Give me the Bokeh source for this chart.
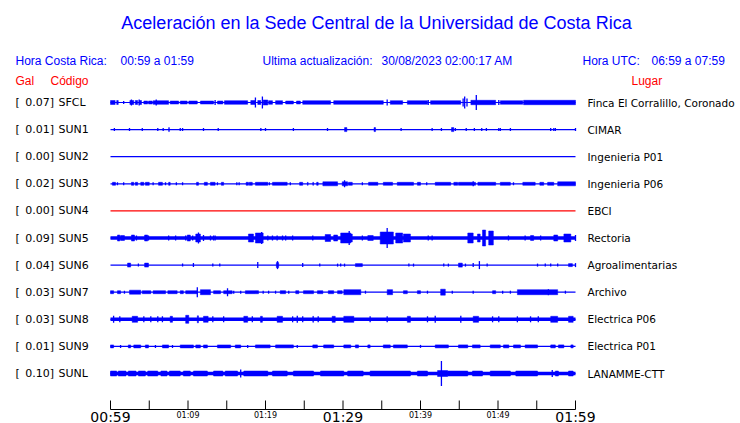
from bokeh.plotting import figure
from bokeh.models import Range1d
from bokeh.embed import file_html
from bokeh.resources import INLINE
from bokeh.core.properties import value

# ---------------- data ----------------
codes = ["SFCL", "SUN1", "SUN2", "SUN3", "SUN4", "SUN5", "SUN6", "SUN7", "SUN8", "SUN9", "SUNL"]
gal = ["0.07", "0.01", "0.00", "0.02", "0.00", "0.09", "0.04", "0.03", "0.03", "0.01", "0.10"]
places = ["Finca El Corralillo, Coronado", "CIMAR", "Ingenieria P01", "Ingenieria P06", "EBCI",
          "Rectoria", "Agroalimentarias", "Archivo", "Electrica P06", "Electrica P01", "LANAMME-CTT"]
# continuous noise band half-amplitude (px) per station
base_amp = [0, 0, 0, 0, 0, 1.7, 0, 0, 1.7, 0, 1.7]

# bursts: (start minute, end minute, half amplitude px); minute 0 = 00:59
bursts_SFCL = [(0.0, 0.6, 2), (0.8, 1.0, 2), (1.7, 1.7, 1.5), (2.5, 3.0, 2), (2.7, 2.7, 3), (3.2, 3.5, 2),
               (3.7, 4.0, 2), (3.7, 3.7, 3), (4.3, 4.8, 1.5), (4.9, 5.4, 1.5), (5.5, 7.5, 1.8), (5.9, 5.9, 3),
               (7.7, 8.8, 1.5), (9.0, 9.9, 1.5), (10.1, 11.2, 1.5), (11.6, 13.3, 1.5), (13.5, 13.5, 2.5),
               (13.8, 14.5, 1.5), (14.7, 17.7, 1.8), (18.1, 18.7, 2), (18.7, 18.7, 5), (19.0, 19.4, 2),
               (19.6, 19.6, 6), (19.7, 20.3, 2.5), (20.4, 20.9, 1.8), (21.3, 22.2, 1.8), (22.6, 23.6, 1.5),
               (24.0, 24.5, 1.5), (24.8, 28.4, 1.8), (28.8, 35.2, 1.8), (35.7, 35.7, 3), (36.1, 37.7, 1.8),
               (38.3, 40.9, 1.8), (41.0, 41.0, 2.5), (41.3, 45.2, 1.8), (45.5, 45.5, 4), (45.7, 45.7, 6),
               (46.0, 46.0, 4), (46.5, 49.7, 2.2), (47.2, 47.2, 7.5), (50.1, 50.1, 2.5), (50.3, 53.2, 1.8),
               (53.3, 60.0, 2.2)]
bursts_SUN1 = [(0.5, 0.5, 1.5), (2.45, 2.45, 1.5), (4.1, 4.1, 1.5), (6.1, 6.1, 1.5), (6.8, 6.8, 1.5),
               (7.5, 7.6, 2), (9.0, 9.0, 1.5), (9.3, 9.3, 1.5), (12.0, 12.0, 1.5), (13.9, 13.9, 1.5),
               (19.4, 19.4, 1.5), (20.0, 20.0, 1.5), (23.6, 23.6, 1.5), (28.0, 28.0, 1.5), (30.2, 30.5, 2),
               (34.0, 34.2, 2), (37.5, 37.5, 1.5), (41.5, 41.5, 1.5), (42.7, 42.7, 1.5), (44.0, 44.3, 2),
               (44.5, 44.5, 1.5), (45.9, 45.9, 1.5), (46.95, 46.95, 1.5), (47.9, 47.9, 1.5), (48.5, 48.5, 1.5),
               (50.1, 50.1, 1.5), (50.3, 50.3, 1.5), (51.6, 51.6, 1.5), (56.8, 56.8, 1.5), (57.2, 57.2, 1.5),
               (57.4, 57.4, 1.5), (60.0, 60.0, 1.5)]
bursts_SUN2 = []
bursts_SUN3 = [(0.25, 0.65, 1.5), (0.9, 0.9, 1.5), (1.7, 1.7, 1.5), (2.7, 3.0, 1.5), (3.2, 3.5, 1.5),
               (3.9, 4.3, 1.5), (4.5, 5.0, 1.5), (5.5, 5.5, 1.5), (6.2, 6.7, 1.5), (7.1, 7.1, 1.5),
               (7.5, 7.7, 1.5), (8.5, 8.5, 1.5), (9.3, 9.3, 1.5), (11.1, 11.35, 1.5), (12.1, 12.5, 1.5),
               (12.9, 13.5, 1.5), (13.8, 13.8, 1.5), (14.3, 14.6, 1.5), (16.3, 16.3, 1.5), (16.6, 16.6, 1.5),
               (17.5, 17.8, 1.5), (17.9, 18.3, 1.5), (18.7, 20.3, 1.5), (20.5, 20.5, 1.5), (20.9, 22.8, 1.5),
               (23.2, 23.2, 1.5), (24.4, 24.8, 1.5), (25.4, 25.5, 1.5), (26.1, 26.2, 1.5), (26.6, 26.8, 1.5),
               (27.4, 29.3, 2), (29.9, 30.6, 2), (30.2, 30.2, 3.5), (30.7, 31.2, 1.5), (32.5, 32.5, 1.5),
               (33.3, 34.5, 1.5), (35.2, 36.4, 1.5), (37.0, 39.1, 1.5), (39.6, 40.0, 1.5), (40.8, 40.8, 1.5),
               (41.9, 43.9, 1.5), (44.3, 44.8, 1.5), (44.9, 47.1, 1.5), (46.8, 46.8, 2.5), (47.4, 49.7, 1.5),
               (50.3, 51.6, 1.5), (52.0, 52.0, 1.5), (53.2, 54.8, 1.5), (55.4, 55.9, 1.5), (56.4, 57.2, 1.5),
               (57.7, 60.0, 2)]
bursts_SUN4 = []
bursts_SUN5 = [(0.9, 1.2, 3), (1.3, 1.8, 2.5), (2.7, 3.1, 3), (3.35, 3.35, 2.5), (4.4, 4.8, 3), (4.9, 4.9, 2.5),
               (7.5, 7.5, 2.5), (8.4, 8.4, 2.5), (9.7, 9.7, 2.5), (9.9, 10.3, 3), (10.6, 10.6, 2.5),
               (11.0, 11.6, 4), (11.35, 11.35, 5.5), (12.0, 12.0, 3), (12.9, 12.9, 2.5), (13.3, 13.3, 2.5),
               (13.5, 13.5, 2.5), (17.8, 18.45, 4), (18.7, 19.7, 5), (19.5, 19.5, 6), (20.3, 20.3, 2.5),
               (20.9, 20.9, 2.5), (21.5, 21.5, 2.5), (22.2, 22.2, 2.5), (22.6, 22.6, 2.5), (23.5, 23.5, 2.5),
               (26.1, 26.1, 2.5), (27.7, 28.4, 3.5), (28.8, 29.3, 3), (29.7, 31.0, 5), (30.8, 30.8, 7),
               (30.7, 31.2, 4), (32.5, 32.5, 2.5), (33.2, 33.9, 2.5), (34.8, 36.5, 6), (35.7, 35.7, 10),
               (36.8, 37.7, 5), (37.8, 38.7, 4), (41.0, 41.0, 2.5), (41.5, 41.5, 2.5), (46.1, 46.8, 5),
               (47.35, 47.7, 4), (48.0, 48.4, 8), (48.8, 49.4, 7), (51.35, 51.35, 2.5), (53.5, 53.5, 2.5),
               (54.2, 54.6, 2.5), (55.5, 55.5, 2.5), (57.2, 57.7, 3), (58.5, 59.4, 4), (60.0, 60.0, 3)]
bursts_SUN6 = [(2.2, 2.6, 2), (3.6, 3.6, 1.5), (4.4, 4.9, 2), (9.3, 9.3, 1.5), (10.7, 10.7, 2), (13.2, 13.2, 1.5),
               (14.1, 14.1, 1.5), (19.0, 19.0, 3), (21.4, 21.7, 2.5), (21.55, 21.55, 4), (24.8, 24.8, 2),
               (27.0, 27.0, 1.5), (29.3, 29.3, 1.5), (29.7, 29.7, 1.5), (30.2, 30.2, 1.5), (31.6, 32.5, 1.5),
               (38.5, 38.5, 1.5), (39.1, 39.1, 1.5), (43.0, 43.0, 1.5), (43.6, 43.6, 1.5), (44.9, 45.4, 2),
               (45.8, 45.8, 1.5), (46.8, 46.8, 2), (47.6, 47.6, 4), (48.6, 48.6, 1.5), (55.1, 55.1, 1.5),
               (56.1, 56.1, 1.5), (56.8, 56.8, 1.5), (57.7, 57.7, 1.5), (59.1, 59.6, 1.5), (60.0, 60.0, 2)]
bursts_SUN7 = [(0.0, 0.4, 1.5), (0.9, 1.3, 1.5), (1.8, 1.8, 1.5), (2.45, 3.9, 2), (4.1, 5.2, 1.5), (5.5, 7.1, 1.5),
               (7.4, 8.6, 1.5), (9.0, 9.4, 1.5), (9.7, 11.2, 1.5), (11.2, 11.2, 5), (11.6, 12.9, 2.5),
               (13.3, 14.2, 1.5), (14.6, 15.7, 1.5), (15.1, 15.1, 4), (15.9, 15.9, 1.5), (16.8, 16.8, 1.5),
               (17.4, 19.1, 1.5), (19.7, 19.7, 1.5), (20.4, 20.4, 1.5), (21.3, 21.3, 1.5), (21.9, 22.6, 1.5),
               (23.0, 23.0, 1.5), (23.9, 24.3, 1.5), (24.9, 26.2, 1.5), (26.7, 27.4, 1.5), (28.1, 28.8, 1.5),
               (29.3, 29.9, 1.5), (30.1, 32.3, 2.5), (32.9, 32.9, 1.5), (35.7, 36.4, 2.5), (37.8, 38.3, 1.5),
               (39.6, 40.0, 1.5), (40.9, 40.9, 1.5), (42.6, 43.2, 3), (44.1, 44.1, 1.5), (46.8, 46.8, 1.5),
               (49.3, 49.7, 1.5), (50.6, 50.6, 1.5), (51.6, 51.6, 1.5), (52.5, 57.7, 2.5), (56.5, 56.5, 3),
               (58.7, 58.7, 1.5)]
bursts_SUN8 = [(0.4, 0.4, 3.5), (1.2, 1.2, 3), (2.8, 3.5, 3), (4.3, 4.3, 3), (5.2, 5.2, 3), (6.1, 6.1, 3),
               (6.7, 6.7, 3), (7.7, 8.0, 3), (9.7, 10.1, 4), (11.2, 11.35, 3.5), (12.0, 12.6, 3), (13.2, 13.2, 3),
               (14.6, 14.6, 3), (17.2, 17.7, 3), (18.3, 18.3, 3), (19.35, 19.6, 3), (21.5, 22.2, 3),
               (23.5, 23.5, 3), (24.1, 24.1, 3.5), (24.8, 24.8, 3), (26.1, 26.2, 3), (26.8, 26.8, 3),
               (28.6, 29.0, 3), (30.1, 31.4, 3), (33.5, 33.5, 3), (35.7, 35.7, 3), (38.3, 38.7, 3),
               (40.9, 40.9, 3), (41.9, 41.9, 3.5), (45.2, 45.2, 3.5), (46.8, 47.5, 3), (49.3, 49.3, 3),
               (50.1, 50.1, 3), (52.5, 52.5, 3), (54.2, 54.2, 3), (55.2, 55.2, 3), (56.8, 57.7, 3),
               (59.1, 59.7, 3)]
bursts_SUN9 = [(0.0, 0.4, 1.5), (1.3, 1.3, 1.5), (2.3, 2.6, 1.5), (3.0, 3.9, 1.5), (4.5, 4.9, 1.5),
               (5.8, 5.8, 1.5), (6.7, 7.5, 1.5), (8.0, 8.0, 1.5), (9.0, 10.7, 1.5), (11.0, 11.6, 1.5),
               (12.0, 12.5, 1.5), (13.8, 15.5, 1.5), (16.1, 16.8, 1.5), (17.7, 17.7, 1.5), (18.7, 20.6, 1.5),
               (21.3, 23.6, 1.5), (24.1, 24.1, 1.5), (26.1, 26.7, 1.5), (27.5, 28.8, 1.5), (30.1, 31.0, 1.5),
               (31.6, 32.0, 1.5), (33.2, 33.5, 1.5), (35.2, 36.1, 1.5), (36.5, 38.3, 1.5), (40.0, 40.0, 1.5),
               (41.9, 43.6, 1.5), (44.9, 46.1, 1.5), (46.7, 47.7, 1.5), (49.0, 50.3, 1.5), (50.7, 51.4, 1.5),
               (52.0, 52.9, 1.5), (53.5, 55.1, 1.5), (56.8, 57.4, 1.5), (57.8, 58.5, 1.5), (59.4, 59.7, 1.5)]
bursts_SUNL = [(0.0, 0.8, 2.5), (1.0, 2.0, 2.5), (2.3, 3.3, 2.5), (3.6, 4.5, 2.5), (4.8, 6.1, 2.5),
               (6.5, 7.3, 2.5), (7.6, 9.0, 2.5), (9.4, 10.3, 2.5), (10.7, 12.5, 2.5), (13.3, 14.5, 2.5),
               (14.8, 16.4, 2.5), (16.8, 16.8, 4), (17.2, 20.3, 2.5), (20.9, 22.8, 2.5), (23.6, 26.2, 2.5),
               (27.1, 30.1, 2.5), (30.6, 32.6, 2.5), (33.5, 38.7, 2.5), (39.6, 40.9, 2.5), (42.2, 43.5, 3),
               (42.7, 42.7, 12.5), (43.5, 46.1, 2.5), (46.7, 48.0, 2.5), (49.0, 51.6, 2.5), (52.3, 55.1, 2.5),
               (57.0, 57.0, 3.5), (57.4, 57.8, 2.5), (59.1, 59.7, 2.5)]

all_bursts = [bursts_SFCL, bursts_SUN1, bursts_SUN2, bursts_SUN3, bursts_SUN4, bursts_SUN5,
              bursts_SUN6, bursts_SUN7, bursts_SUN8, bursts_SUN9, bursts_SUNL]

tick_minutes = list(range(0, 61, 5))
major_ticks = [0, 30, 60]
major_labels = ["00:59", "01:29", "01:59"]
minor_ticks = [10, 20, 40, 50]
minor_labels = ["01:09", "01:19", "01:39", "01:49"]

# ---------------- layout helpers ----------------
W, H = 740, 423
PX_PER_MIN = 7.75
X0_PAGE = 110.0          # x pixel of minute 0
ROW0_Y = 102.0           # y pixel of first row
ROW_STEP = 27.1
AXIS_Y = 409.0
TICK_TOP = 400.0


def mx(px):
    """pixel x -> minutes (for text placement)"""
    return (px - X0_PAGE) / PX_PER_MIN


BLUE = "#0000FF"
RED = "#FF0000"
trace_colors = [BLUE, BLUE, BLUE, BLUE, RED, BLUE, BLUE, BLUE, BLUE, BLUE, BLUE]

p = figure(width=W, height=H, output_backend="svg", toolbar_location=None,
           x_axis_type=None, y_axis_type=None, min_border=0,
           x_range=Range1d(mx(0), mx(W)), y_range=Range1d(H, 0))
p.outline_line_color = None
p.background_fill_color = "white"
p.border_fill_color = "white"
p.grid.visible = False

rows = [ROW0_Y + ROW_STEP * i for i in range(len(codes))]

# base lines
p.segment(x0=[0] * len(rows), x1=[60] * len(rows), y0=rows, y1=rows,
          line_color=trace_colors, line_width=1.2)

# continuous bands
band = [(i, a) for i, a in enumerate(base_amp) if a > 0]
p.quad(left=[0] * len(band), right=[60] * len(band),
       bottom=[rows[i] - a for i, a in band], top=[rows[i] + a for i, a in band],
       fill_color=BLUE, line_color=None)

# bursts
ql, qr, qb, qt, qc = [], [], [], [], []
sx, sy0, sy1, sc = [], [], [], []
for i, bl in enumerate(all_bursts):
    for (s, e, a) in bl:
        if e - s < 0.05:
            sx.append(s); sy0.append(rows[i] - a); sy1.append(rows[i] + a); sc.append(trace_colors[i])
        else:
            ql.append(s); qr.append(e); qb.append(rows[i] - a); qt.append(rows[i] + a); qc.append(trace_colors[i])
p.quad(left=ql, right=qr, bottom=qb, top=qt, fill_color=qc, line_color=qc, line_width=0.5)
p.segment(x0=sx, x1=sx, y0=sy0, y1=sy1, line_color=sc, line_width=1.3)

# time axis
p.segment(x0=[0], x1=[60], y0=[AXIS_Y], y1=[AXIS_Y], line_color="black", line_width=1)
p.segment(x0=tick_minutes, x1=tick_minutes, y0=[AXIS_Y] * len(tick_minutes), y1=[TICK_TOP] * len(tick_minutes),
          line_color="black", line_width=1)
p.text(x=major_ticks, y=[416] * 3, text=major_labels, text_font=value("DejaVu Sans"),
       text_font_size="14px", text_align="center", text_baseline="middle", text_color="black")
p.text(x=minor_ticks, y=[415] * 4, text=minor_labels, text_font=value("DejaVu Sans"),
       text_font_size="8px", text_align="center", text_baseline="middle", text_color="black")

# station labels
n = len(codes)
p.text(x=[mx(15)] * n, y=rows, text=["["] * n, text_font=value("DejaVu Sans"), text_font_size="11px",
       text_align="left", text_baseline="middle", text_color="black")
p.text(x=[mx(53.5)] * n, y=rows, text=[g + "]" for g in gal], text_font=value("DejaVu Sans"),
       text_font_size="11px", text_align="right", text_baseline="middle", text_color="black")
p.text(x=[mx(58)] * n, y=rows, text=codes, text_font=value("DejaVu Sans"), text_font_size="11px",
       text_align="left", text_baseline="middle", text_color="black")
p.text(x=[mx(587)] * n, y=rows, text=places, text_font=value("DejaVu Sans"), text_font_size="10.5px",
       text_align="left", text_baseline="middle", text_color="black")

# header
p.text(x=[mx(376)], y=[22], text=["Aceleración en la Sede Central de la Universidad de Costa Rica"],
       text_font=value("Liberation Sans"), text_font_size="18px", text_align="center",
       text_baseline="middle", text_color=BLUE)
hdr_x = [15, 120, 262, 381, 582, 651]
hdr_t = ["Hora Costa Rica:", "00:59 a 01:59", "Ultima actualización:", "30/08/2023 02:00:17 AM",
         "Hora UTC:", "06:59 a 07:59"]
p.text(x=[mx(v) for v in hdr_x], y=[60] * len(hdr_x), text=hdr_t, text_font=value("Liberation Sans"),
       text_font_size="12px", text_align="left", text_baseline="middle", text_color=BLUE)
p.text(x=[mx(15), mx(50), mx(631)], y=[80] * 3, text=["Gal", "Código", "Lugar"],
       text_font=value("Liberation Sans"), text_font_size="12px", text_align="left",
       text_baseline="middle", text_color=RED)

open("out.html", "w").write(file_html(p, INLINE))
